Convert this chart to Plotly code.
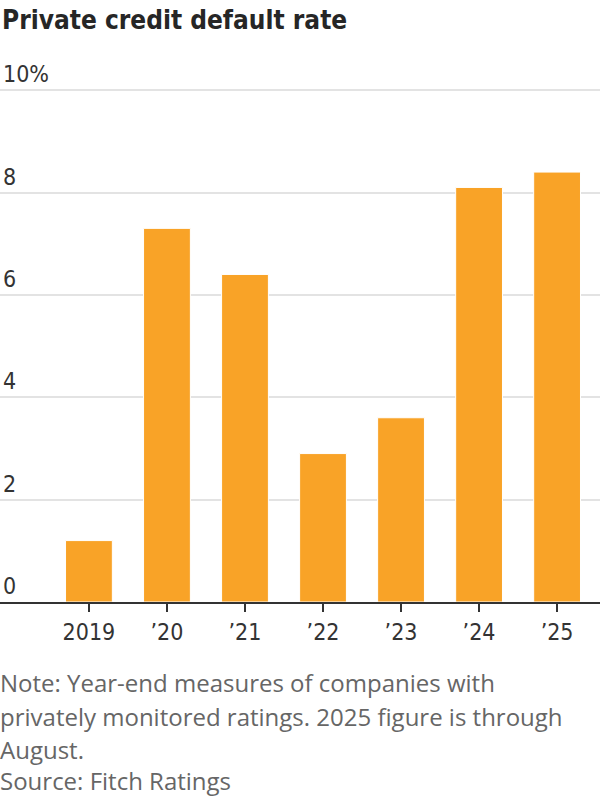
import plotly.graph_objects as go

years = ["2019", "\u201920", "\u201921", "\u201922", "\u201923", "\u201924", "\u201925"]
default_rate = [1.2, 7.3, 6.4, 2.9, 3.6, 8.1, 8.4]
y_tickvals = [0, 2, 4, 6, 8, 10]
y_ticktext = ["0", "2", "4", "6", "8", "10%"]

title = "Private credit default rate"
note_lines = [
    "Note: Year-end measures of companies with",
    "privately monitored ratings. 2025 figure is through",
    "August.",
    "Source: Fitch Ratings",
]

TICKFONT = "DejaVu Sans Condensed, DejaVu Sans, sans-serif"
NOTEFONT = "Open Sans, Roboto, sans-serif"

Y_MAX = 11.0
PX_PER_UNIT = 51.2
BASE = 602
TOP = int(round(BASE - Y_MAX * PX_PER_UNIT))
BOTTOM = 800 - BASE
H_PLOT = float(BASE - TOP)

fig = go.Figure()
fig.add_trace(go.Bar(
    x=years, y=default_rate,
    marker=dict(color="#F9A327", line=dict(color="white", width=1)),
    width=0.6,
))

def py(pix):
    return (BASE - pix) / H_PLOT

annotations = [
    dict(text="<b>" + title + "</b>", xref="paper", yref="paper", x=0, y=py(20),
         xanchor="left", yanchor="middle", showarrow=False,
         font=dict(family=TICKFONT, size=26, color="#262626")),
]
for line, ypix in zip(note_lines, [682, 716, 749, 781]):
    annotations.append(dict(text=line, xref="paper", yref="paper", x=-0.003, y=py(ypix),
                            xanchor="left", yanchor="middle", showarrow=False,
                            font=dict(family=NOTEFONT, size=24, color="#666666")))

fig.update_layout(
    width=600, height=800,
    margin=dict(l=0, r=0, t=TOP, b=BOTTOM, pad=0),
    paper_bgcolor="white", plot_bgcolor="white",
    showlegend=False,
    font=dict(family=TICKFONT, color="#333333"),
    annotations=annotations,
    xaxis=dict(
        type="category", range=[-1.14, 6.55],
        showline=True, linecolor="#333333", linewidth=2,
        ticks="outside", ticklen=8, tickwidth=2, tickcolor="#333333",
        tickfont=dict(family=TICKFONT, size=23, color="#333333"),
        showgrid=False, fixedrange=True,
    ),
    yaxis=dict(
        range=[0, Y_MAX], tickvals=y_tickvals, ticktext=y_ticktext,
        ticklabelposition="inside top",
        tickfont=dict(family=TICKFONT, size=23, color="#333333"),
        showgrid=True, gridcolor="#e3e3e3", gridwidth=2,
        zeroline=False, showline=False, ticks="",
        fixedrange=True,
    ),
)

fig.write_html("out.html")
